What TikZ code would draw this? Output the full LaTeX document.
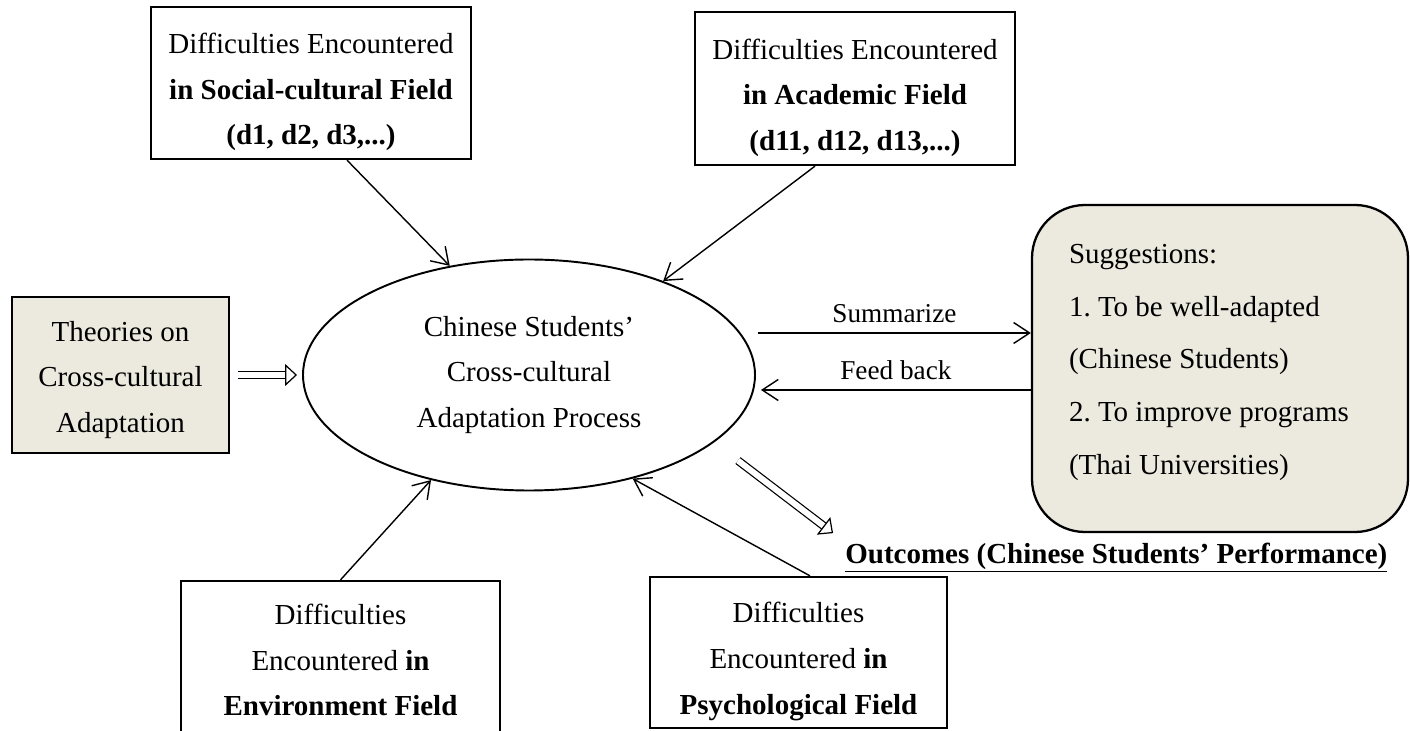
\documentclass[tikz,border=0pt]{standalone}
\usepackage{fontspec}
\setmainfont{Liberation Serif}
\usepackage{xcolor}
\usetikzlibrary{arrows.meta,shapes.geometric}
\definecolor{sandbg}{RGB}{236,233,223}
\newcommand{\firstgap}[1]{\rule{0pt}{#1}}

\begin{document}
\frenchspacing
\begin{tikzpicture}[
        box/.style={rectangle, draw, line width=1.3pt, align=center, inner sep=0pt, font=\fontsize{16.5pt}{26pt}\selectfont},
        arrow/.style={-{Straight Barb[length=0.32cm,width=0.42cm]}, line width=0.8pt},
        dblarrow/.style={double, double distance=0.12cm, line width=0.7pt, -{Triangle[open,length=0.24cm,width=0.44cm]}},
        lbl/.style={font=\fontsize{15.5pt}{18pt}\selectfont, inner sep=0pt, above=0.2cm}
    ]
        \clip (0,0) rectangle (28.2,14.6);

        % Difficulty boxes on top
        \node[box, minimum width=6.4cm, minimum height=3.04cm] (social) at (6.22,12.94) {\firstgap{22pt}Difficulties Encountered\\\textbf{in Social-cultural Field}\\\textbf{(d1, d2, d3,...)}};
        \node[box, minimum width=6.4cm, minimum height=3.06cm] (academic) at (17.1,12.83) {\firstgap{22pt}Difficulties Encountered\\\textbf{in Academic Field}\\\textbf{(d11, d12, d13,...)}};

        % Theories
        \node[box, fill=sandbg, minimum width=4.34cm, minimum height=3.12cm] (theory) at (2.41,7.10) {\firstgap{17pt}Theories on\\Cross-cultural\\Adaptation};

        % Central process
        \node[ellipse, draw, line width=1.1pt, minimum width=9.04cm, minimum height=4.62cm, inner sep=0pt, align=center, font=\fontsize{16.5pt}{26pt}\selectfont] (process) at (10.58,7.10) {Chinese Students'\\Cross-cultural\\Adaptation Process};

        % Suggestions
        \node[box, fill=sandbg, rounded corners=1.06cm, minimum width=7.52cm, minimum height=6.54cm, text width=6.04cm, align=flush left, font=\fontsize{16.5pt}{30pt}\selectfont] (suggest) at (24.4,7.23) {Suggestions:\\1. To be well-adapted\\(Chinese Students)\\2. To improve programs\\(Thai Universities)\rule[-10.5pt]{0pt}{0pt}};

        % Difficulty boxes at the bottom
        \node[box, minimum width=6.38cm, minimum height=3.16cm] (environ) at (6.81,1.4) {Difficulties\\Encountered \textbf{in}\\\textbf{Environment Field}};
        \node[box, minimum width=5.94cm, minimum height=3.02cm] (psycho) at (15.97,1.55) {\firstgap{22pt}Difficulties\\Encountered \textbf{in}\\\textbf{Psychological Field}};

        % Outcomes
        \node[anchor=base west, inner sep=0pt, font=\bfseries\fontsize{16.5pt}{20pt}\selectfont] (outcome) at (16.9,3.34) {\underline{Outcomes (Chinese Students' Performance)}};

        % Arrows
        \draw[arrow] ([xshift=0.72cm]social.south) -- (process.126);
        \draw[arrow] ([xshift=-0.8cm]academic.south) -- (process.35);
        \draw[arrow] (environ.north) -- (process.227);
        \draw[arrow] ([xshift=0.23cm]psycho.north) -- (process.-45);
        \draw[dblarrow, shorten <=0.16cm, shorten >=0.1cm] (theory.east) -- (process.west);
        \draw[dblarrow, shorten <=0.6cm, shorten >=0.3cm] (process.-20) -- (outcome.north west);
        \draw[arrow] ([xshift=0.04cm,yshift=0.84cm]process.east) -- node[lbl] {Summarize} ([yshift=0.71cm]suggest.west);
        \draw[arrow] ([yshift=-0.43cm]suggest.west) -- node[lbl] {Feed back} ([xshift=0.1cm,yshift=-0.3cm]process.east);
    \end{tikzpicture}
\end{document}
